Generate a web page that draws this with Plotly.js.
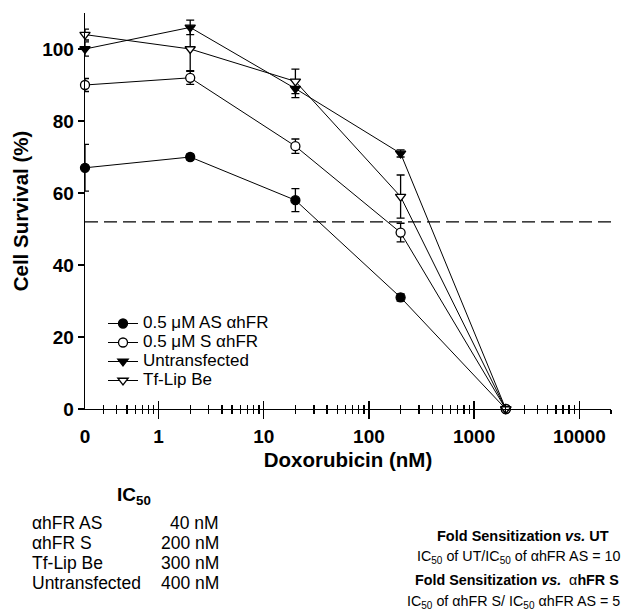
<!DOCTYPE html>
<html>
<head>
<meta charset="utf-8">
<script src="https://cdn.plot.ly/plotly-3.0.1.min.js"></script>
<style>
html, body { margin: 0; padding: 0; background: #fff; }
#chart { width: 625px; height: 611px; }
</style>
</head>
<body>
<div id="chart"></div>
<script>
// ---------------- data ----------------
var doses = [0, 2, 20, 200, 2000];          // nM (0 = untreated, drawn at axis origin)
var zeroDosePos = 0.2;                      // log-axis position used for the "0" dose
var seriesNames = ["0.5 \u03bcM AS \u03b1hFR", "0.5 \u03bcM S \u03b1hFR", "Untransfected", "Tf-Lip Be"];
var survAS = [67, 70, 58, 31, 0];
var errAS  = [6.5, 0.8, 3.2, 1, 0];
var survS  = [90, 92, 73, 49, 0];
var errS   = [1.8, 1.8, 2, 2.6, 0];
var survUT = [100, 106, 89, 71, 0];
var errUT  = [2, 2, 2.5, 1, 0];
var survTf = [104, 100, 91, 59, 0];
var errTf  = [1.5, 6, 3.4, 6, 0];
var thresholdLine = 52;

var xTickVals = [0.2, 1, 10, 100, 1000, 10000];
var xTickText = ["0", "1", "10", "100", "1000", "10000"];
var yTickVals = [0, 20, 40, 60, 80, 100];

var ic50Names  = ["\u03b1hFR AS", "\u03b1hFR S", "Tf-Lip Be", "Untransfected"];
var ic50Values = ["40 nM", "200 nM", "300 nM", "400 nM"];

// ---------------- helpers ----------------
var FONT = "Liberation Sans, Arial, Helvetica, sans-serif";
var xPos = doses.map(function (d) { return d === 0 ? zeroDosePos : d; });

var majorVals = xTickVals.slice(1);
var minorVals = [];
[0.1, 1, 10, 100, 1000, 10000].forEach(function (dec) {
  for (var k = 2; k <= 9; k++) {
    var v = dec * k;
    if (v > 0.2 + 1e-9 && v <= 20000) minorVals.push(v);
  }
});
minorVals.push(20000);

function mk(y, err, name, symbol, fill, xa) {
  return {
    x: xPos, y: y, type: "scatter", mode: "lines+markers",
    name: '<span style="font-size:17px">' + name + '</span>',
    xaxis: xa, yaxis: "y",
    cliponaxis: false,
    line: { color: "#000", width: 1 },
    marker: { symbol: symbol, size: 9, color: fill, line: { color: "#000", width: 1.3 } },
    error_y: { type: "data", array: err, visible: true, color: "#000", thickness: 1.3, width: 4 }
  };
}

var traces = [
  mk(survAS, errAS, seriesNames[0], "circle", "#000", "x"),
  mk(survS,  errS,  seriesNames[1], "circle", "#fff", "x"),
  mk(survUT, errUT, seriesNames[2], "triangle-down", "#000", "x2"),
  mk(survTf, errTf, seriesNames[3], "triangle-down", "#fff", "x3")
];

// plot area in pixels
var L = 85, R = 611, T = 13, B = 409;
function px(x) { return (x - L) / (R - L); }
function py(y) { return (B - y) / (B - T); }

var xRange = [Math.log10(0.2), Math.log10(20000)];

var annotations = [];
annotations.push({ xref: "paper", yref: "paper", x: px(134), y: py(496), xanchor: "center", yanchor: "middle",
  text: "<b>IC<sub>50</sub></b>", showarrow: false, font: { family: FONT, size: 19, color: "#000" } });
var rowY = [523, 543, 563, 583];
for (var i = 0; i < ic50Names.length; i++) {
  annotations.push({ xref: "paper", yref: "paper", x: px(30), y: py(rowY[i]), xanchor: "left", yanchor: "middle",
    text: ic50Names[i], showarrow: false, font: { family: FONT, size: 17.5, color: "#000" } });
  annotations.push({ xref: "paper", yref: "paper", x: px(221), y: py(rowY[i]), xanchor: "right", yanchor: "middle",
    text: ic50Values[i], showarrow: false, font: { family: FONT, size: 17.5, color: "#000" } });
}
var rightLines = [
  { t: "<b>Fold Sensitization <i>vs.</i> UT</b>", y: 536, x: 523, a: "center", s: 14.5 },
  { t: "IC<sub>50</sub> of UT/IC<sub>50</sub> of \u03b1hFR AS = 10", y: 557, x: 622, a: "right", s: 14.3 },
  { t: "<b>Fold Sensitization <i>vs.</i></b>\u00a0\u00a0\u03b1<b>hFR S</b>", y: 580, x: 621, a: "right", s: 14.3 },
  { t: "IC<sub>50</sub> of \u03b1hFR S/ IC<sub>50</sub> \u03b1hFR AS = 5", y: 602, x: 622, a: "right", s: 14.3 }
];
rightLines.forEach(function (r) {
  annotations.push({ xref: "paper", yref: "paper", x: px(r.x), y: py(r.y), xanchor: r.a, yanchor: "middle",
    text: r.t, showarrow: false, font: { family: FONT, size: r.s, color: "#000" } });
});

function tickAxis(side) {
  return {
    type: "log", range: xRange, overlaying: "x", anchor: "y", side: "bottom", fixedrange: true,
    tickmode: "array", tickvals: majorVals,
    ticks: side, ticklen: side === "outside" ? 9 : 8, tickwidth: 1.3, tickcolor: "#000",
    showticklabels: false, showgrid: false, zeroline: false, showline: false,
    minor: { tickmode: "array", tickvals: minorVals, ticks: side, ticklen: 4, tickwidth: 1.3, tickcolor: "#000", showgrid: false }
  };
}

var layout = {
  width: 625, height: 611,
  margin: { l: L, r: 625 - R, t: T, b: 611 - B, pad: 0 },
  paper_bgcolor: "#fff", plot_bgcolor: "rgba(0,0,0,0)",
  font: { family: FONT, color: "#000" },
  showlegend: true,
  legend: {
    x: px(103), y: py(309), xanchor: "left", yanchor: "top",
    bgcolor: "rgba(0,0,0,0)", borderwidth: 0,
    font: { family: FONT, size: 12, color: "#000" },
    tracegroupgap: 0, itemwidth: 30
  },
  xaxis: {
    type: "log", range: xRange, fixedrange: true,
    tickmode: "array", tickvals: xTickVals, ticktext: xTickText,
    ticks: "", showgrid: false, zeroline: false,
    showline: true, linecolor: "#000", linewidth: 1.3,
    tickfont: { family: FONT, size: 19, color: "#000", weight: "bold" },
    ticklabelstandoff: 10,
    title: { text: "<b>Doxorubicin (nM)</b>", font: { family: FONT, size: 20.5, color: "#000" }, standoff: 6 }
  },
  xaxis2: tickAxis("outside"),
  xaxis3: tickAxis("inside"),
  yaxis: {
    range: [0, 110], fixedrange: true,
    tickmode: "array", tickvals: yTickVals,
    ticks: "outside", ticklen: 6, tickwidth: 1.3, tickcolor: "#000",
    showgrid: false, zeroline: false,
    showline: true, linecolor: "#000", linewidth: 1.3,
    tickfont: { family: FONT, size: 19, color: "#000", weight: "bold" },
    ticklabelstandoff: 0,
    title: { text: "<b>Cell Survival (%)</b>", font: { family: FONT, size: 20.5, color: "#000" }, standoff: 8 }
  },
  shapes: [{
    type: "line", xref: "paper", x0: 0, x1: 1, yref: "y", y0: thresholdLine, y1: thresholdLine,
    line: { color: "#000", width: 1.3, dash: "13px,6px" }, layer: "below"
  }],
  annotations: annotations
};

Plotly.newPlot("chart", traces, layout, { displayModeBar: false, staticPlot: true });
</script>
</body>
</html>
